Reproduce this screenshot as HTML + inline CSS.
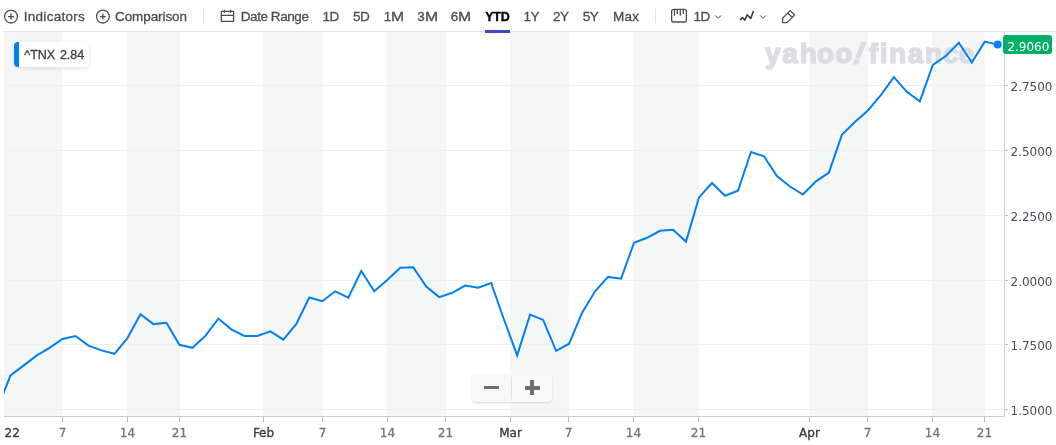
<!DOCTYPE html>
<html><head><meta charset="utf-8"><style>
html,body{margin:0;padding:0;background:#fff;width:1056px;height:445px;overflow:hidden;}
body{position:relative;font-family:"Liberation Sans",Arial,sans-serif;color:#464e56;}
svg{position:absolute;left:0;top:0;}
.yl{font-family:"DejaVu Sans",sans-serif;font-size:12px;fill:#464e56;}
.xl{font-family:"DejaVu Sans",sans-serif;font-size:12px;fill:#6e7780;stroke:#6e7780;stroke-width:0.3px;}
.xm{font-family:"DejaVu Sans",sans-serif;font-size:12px;fill:#363d44;stroke:#363d44;stroke-width:0.35px;}
.wm{font-family:"Liberation Sans",sans-serif;font-weight:700;font-size:28px;fill:#dadde1;stroke:#dadde1;stroke-width:1.6px;stroke-linejoin:round;}
.pl{font-family:"DejaVu Sans",sans-serif;font-size:12px;fill:#fff;}
.t{position:absolute;top:8px;font-size:13.5px;line-height:18px;white-space:nowrap;color:#464e56;-webkit-text-stroke:0.3px #464e56;}
.sep{position:absolute;top:8px;width:1px;height:15px;background:#e0e4e9;}
.ytd{color:#000;font-weight:bold;font-size:12.5px;top:7.5px;-webkit-text-stroke:0.35px #000;}
.mw{display:inline-block;transform:scaleX(1.16);transform-origin:left;}
.ul{position:absolute;left:485px;top:30px;width:25px;height:3px;background:#3e47c5;}
.legend{position:absolute;left:14px;top:42px;width:75px;height:25px;background:#fff;border-radius:4px;box-shadow:0 1px 4px rgba(0,0,0,0.13);overflow:hidden;}
.legend .bar{position:absolute;left:0;top:0;width:5px;height:25px;background:#0081f2;}
.legend .txt{position:absolute;top:5px;font-size:12.5px;line-height:16px;color:#394047;white-space:nowrap;-webkit-text-stroke:0.3px #394047;}
.zoom{position:absolute;left:472px;top:374px;width:80px;height:28px;background:#f8f8f9;border-radius:4px;box-shadow:0 1px 2px rgba(0,0,0,0.15);}
.zoom .d{position:absolute;left:39px;top:3px;width:1px;height:22px;background:#dfe1e3;}
.zoom .m{position:absolute;left:12.3px;top:11.8px;width:15px;height:3.4px;background:#6c7177;}
.zoom .p1{position:absolute;left:52.5px;top:12px;width:15px;height:3.5px;background:#6c7177;}
.zoom .p2{position:absolute;left:58px;top:6px;width:4px;height:15px;background:#6c7177;}
</style></head><body>
<svg width="1056" height="445" viewBox="0 0 1056 445">
<rect x="4" y="32" width="58.00" height="384" fill="#f5f6f6"/>
<rect x="127" y="32" width="53.00" height="384" fill="#f5f6f6"/>
<rect x="263" y="32" width="60.00" height="384" fill="#f5f6f6"/>
<rect x="387" y="32" width="59.00" height="384" fill="#f5f6f6"/>
<rect x="510" y="32" width="59.00" height="384" fill="#f5f6f6"/>
<rect x="633" y="32" width="66.00" height="384" fill="#f5f6f6"/>
<rect x="809" y="32" width="59.00" height="384" fill="#f5f6f6"/>
<rect x="932" y="32" width="53.00" height="384" fill="#f5f6f6"/>
<line x1="4" y1="85.5" x2="1003" y2="85.5" stroke="#efefef" stroke-width="1"/>
<line x1="4" y1="150.5" x2="1003" y2="150.5" stroke="#efefef" stroke-width="1"/>
<line x1="4" y1="215.5" x2="1003" y2="215.5" stroke="#efefef" stroke-width="1"/>
<line x1="4" y1="280.5" x2="1003" y2="280.5" stroke="#efefef" stroke-width="1"/>
<line x1="4" y1="344.5" x2="1003" y2="344.5" stroke="#efefef" stroke-width="1"/>
<line x1="4" y1="409.5" x2="1003" y2="409.5" stroke="#efefef" stroke-width="1"/>
<text x="764.88" y="63.3" class="wm">y</text>
<text x="782.18" y="63.3" class="wm">a</text>
<text x="799.74" y="63.3" class="wm">h</text>
<text x="817.11" y="63.3" class="wm">o</text>
<text x="835.31" y="63.3" class="wm">o</text>
<g transform="translate(850.2,63.6) skewX(-21)"><text x="0" y="0" class="wm" style="font-size:31px;stroke-width:1.2px">!</text></g>
<text x="868.82" y="63.3" class="wm">f</text>
<text x="879.84" y="63.3" class="wm">i</text>
<text x="888.95" y="63.3" class="wm">n</text>
<text x="907.68" y="63.3" class="wm">a</text>
<text x="924.95" y="63.3" class="wm">n</text>
<text x="942.71" y="63.3" class="wm">c</text>
<text x="958.61" y="63.3" class="wm">e</text>
<line x1="4" y1="416.5" x2="1004.5" y2="416.5" stroke="#c8cdd2" stroke-width="1"/>
<line x1="1004.5" y1="31.5" x2="1004.5" y2="416.5" stroke="#c8cdd2" stroke-width="1"/>
<line x1="1005" y1="85.5" x2="1008" y2="85.5" stroke="#b8bec4" stroke-width="1"/>
<text x="1010.5" y="90.8" class="yl">2.7500</text>
<line x1="1005" y1="150.5" x2="1008" y2="150.5" stroke="#b8bec4" stroke-width="1"/>
<text x="1010.5" y="155.8" class="yl">2.5000</text>
<line x1="1005" y1="215.5" x2="1008" y2="215.5" stroke="#b8bec4" stroke-width="1"/>
<text x="1010.5" y="220.8" class="yl">2.2500</text>
<line x1="1005" y1="280.5" x2="1008" y2="280.5" stroke="#b8bec4" stroke-width="1"/>
<text x="1010.5" y="285.8" class="yl">2.0000</text>
<line x1="1005" y1="344.5" x2="1008" y2="344.5" stroke="#b8bec4" stroke-width="1"/>
<text x="1010.5" y="349.8" class="yl">1.7500</text>
<line x1="1005" y1="409.5" x2="1008" y2="409.5" stroke="#b8bec4" stroke-width="1"/>
<text x="1010.5" y="414.8" class="yl">1.5000</text>
<line x1="62.5" y1="417" x2="62.5" y2="422" stroke="#b8bec4" stroke-width="1"/>
<text x="62.5" y="437" text-anchor="middle" class="xl">7</text>
<line x1="127.5" y1="417" x2="127.5" y2="422" stroke="#b8bec4" stroke-width="1"/>
<text x="127.5" y="437" text-anchor="middle" class="xl">14</text>
<line x1="179.5" y1="417" x2="179.5" y2="422" stroke="#b8bec4" stroke-width="1"/>
<text x="179.5" y="437" text-anchor="middle" class="xl">21</text>
<line x1="263.5" y1="417" x2="263.5" y2="422" stroke="#b8bec4" stroke-width="1"/>
<text x="263.5" y="437" text-anchor="middle" class="xm">Feb</text>
<line x1="322.5" y1="417" x2="322.5" y2="422" stroke="#b8bec4" stroke-width="1"/>
<text x="322.5" y="437" text-anchor="middle" class="xl">7</text>
<line x1="387.5" y1="417" x2="387.5" y2="422" stroke="#b8bec4" stroke-width="1"/>
<text x="387.5" y="437" text-anchor="middle" class="xl">14</text>
<line x1="445.5" y1="417" x2="445.5" y2="422" stroke="#b8bec4" stroke-width="1"/>
<text x="445.5" y="437" text-anchor="middle" class="xl">21</text>
<line x1="510.5" y1="417" x2="510.5" y2="422" stroke="#b8bec4" stroke-width="1"/>
<text x="510.5" y="437" text-anchor="middle" class="xm">Mar</text>
<line x1="568.5" y1="417" x2="568.5" y2="422" stroke="#b8bec4" stroke-width="1"/>
<text x="568.5" y="437" text-anchor="middle" class="xl">7</text>
<line x1="633.5" y1="417" x2="633.5" y2="422" stroke="#b8bec4" stroke-width="1"/>
<text x="633.5" y="437" text-anchor="middle" class="xl">14</text>
<line x1="698.5" y1="417" x2="698.5" y2="422" stroke="#b8bec4" stroke-width="1"/>
<text x="698.5" y="437" text-anchor="middle" class="xl">21</text>
<line x1="809.5" y1="417" x2="809.5" y2="422" stroke="#b8bec4" stroke-width="1"/>
<text x="809.5" y="437" text-anchor="middle" class="xm">Apr</text>
<line x1="867.5" y1="417" x2="867.5" y2="422" stroke="#b8bec4" stroke-width="1"/>
<text x="867.5" y="437" text-anchor="middle" class="xl">7</text>
<line x1="932.5" y1="417" x2="932.5" y2="422" stroke="#b8bec4" stroke-width="1"/>
<text x="932.5" y="437" text-anchor="middle" class="xl">14</text>
<line x1="984.5" y1="417" x2="984.5" y2="422" stroke="#b8bec4" stroke-width="1"/>
<text x="984.5" y="437" text-anchor="middle" class="xl">21</text>
<text x="4.5" y="437" class="xm">22</text>
<clipPath id="cp"><rect x="4" y="31.5" width="1000.5" height="385.0"/></clipPath>
<polyline clip-path="url(#cp)" points="-2.45,408.00 10.54,375.40 23.53,365.60 36.52,355.70 49.51,347.90 62.50,338.90 75.49,336.00 88.48,345.60 101.47,350.40 114.46,353.80 127.45,338.10 140.44,314.30 153.43,324.10 166.42,322.70 179.41,344.80 192.40,347.80 205.39,335.90 218.38,318.60 231.37,329.30 244.36,335.90 257.35,335.90 270.34,331.40 283.33,339.70 296.32,323.90 309.31,297.50 322.30,301.20 335.29,291.30 348.28,297.60 361.27,271.00 374.26,291.30 387.25,280.00 400.24,267.80 413.23,267.30 426.22,286.50 439.21,297.10 452.20,292.80 465.19,285.60 478.18,287.70 491.17,283.00 504.16,320.00 517.15,355.40 530.14,314.50 543.13,319.90 556.12,350.90 569.11,343.70 582.10,312.70 595.09,291.30 608.08,276.90 621.07,278.70 634.06,242.70 647.05,237.80 660.04,230.80 673.03,229.70 686.02,241.60 699.01,197.40 712.00,183.00 724.99,195.80 737.98,190.70 750.97,152.00 763.96,156.30 776.95,176.10 789.94,186.50 802.93,194.50 815.92,181.30 828.91,172.50 841.90,134.80 854.89,122.00 867.88,110.50 880.87,95.10 893.86,77.20 906.85,91.80 919.84,101.40 932.83,64.90 945.82,56.00 958.81,42.80 971.80,62.50 984.79,41.60 997.78,44.60" fill="none" stroke="#0081f2" stroke-width="2" stroke-linejoin="miter"/>
<circle cx="997.7" cy="44.6" r="4" fill="#0081f2"/>
<rect x="1003" y="35" width="49" height="19" rx="3" fill="#00b068"/>
<text x="1007.4" y="50.5" class="pl">2.9060</text>
<line x1="3" y1="31.5" x2="1056" y2="31.5" stroke="#e0e4e9" stroke-width="1"/>
</svg>
<!-- toolbar -->
<svg width="1056" height="31" viewBox="0 0 1056 31" fill="none" stroke="#464e56" stroke-width="1.3">
<circle cx="11" cy="16.6" r="6.4"/><path d="M11 13.6v6M8 16.6h6"/>
<circle cx="102.9" cy="16.6" r="6.4"/><path d="M102.9 13.6v6M99.9 16.6h6"/>
<rect x="221.3" y="11.3" width="12.3" height="10" rx="0.4"/><path d="M221.3 15.4h12.3M224.4 9.8v3M230.6 9.8v3"/>
<rect x="671.6" y="9.4" width="14.8" height="12.6" rx="2"/><path d="M674.5 9.4v6.3M677.3 9.4v4.6M680.3 9.4v6.3M683.3 9.4v4.6"/>
<path d="M715.2 15.4l3 3 3-3M760.2 15.4l2.8 3 2.8-3" stroke-width="1"/>
<path d="M740.2 20.3l2.2-2.8 2.3 2.6 2.6-5.3 3.4 3.7 2.8-7.4" stroke-width="1.5" stroke="#2c343c" stroke-linejoin="round"/>
<path d="M790.2 10.6l4.4 4.4-7.6 7.6h-4.4v-4.4zM787.8 13l4.4 4.4" stroke-width="1.3" stroke-linejoin="round"/>
</svg>
<div class="t" style="left:23.8px;letter-spacing:0.27px">Indicators</div>
<div class="t" style="left:115.0px;letter-spacing:-0.08px">Comparison</div>
<div class="t" style="left:240.8px;letter-spacing:-0.44px">Date Range</div>
<div class="t" style="left:322.5px;letter-spacing:-0.6px">1D</div>
<div class="t" style="left:353.0px;letter-spacing:-0.5px">5D</div>
<div class="t" style="left:383.7px;letter-spacing:0px">1<span class="mw">M</span></div>
<div class="t" style="left:417.2px;letter-spacing:0px">3<span class="mw">M</span></div>
<div class="t" style="left:450.8px;letter-spacing:0px">6<span class="mw">M</span></div>
<div class="t ytd" style="left:485.2px;letter-spacing:-0.2px">YTD</div>
<div class="t" style="left:523.4px;letter-spacing:-0.5px">1Y</div>
<div class="t" style="left:552.9px;letter-spacing:-0.5px">2Y</div>
<div class="t" style="left:582.8px;letter-spacing:-0.5px">5Y</div>
<div class="t" style="left:613.1px;letter-spacing:0.2px">Max</div>
<div class="t" style="left:693.4px;letter-spacing:-0.5px">1D</div>
<div class="sep" style="left:203px"></div><div class="sep" style="left:655px"></div><div class="ul"></div><div class="legend"><div class="bar"></div><div class="txt" style="left:10.3px">^TNX</div><div class="txt" style="left:45.9px">2.84</div></div>
<div class="zoom"><div class="m"></div><div class="d"></div><div class="p1"></div><div class="p2"></div></div>
</body></html>
